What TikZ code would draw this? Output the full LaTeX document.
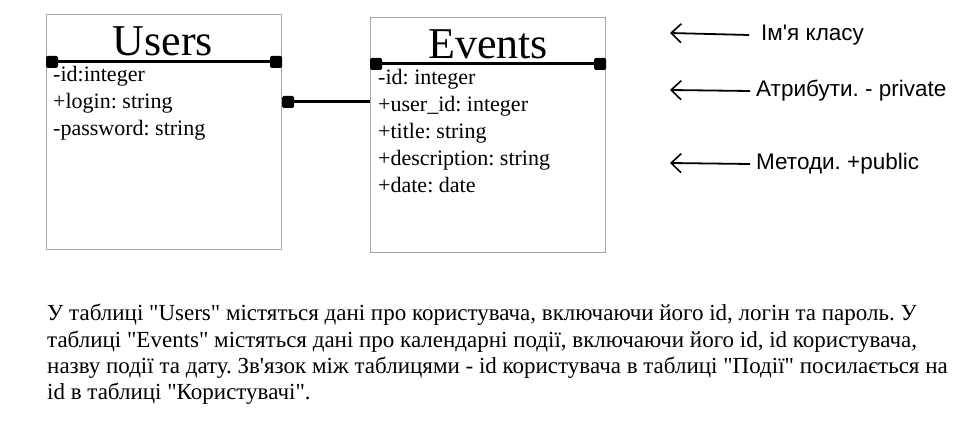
\documentclass[tikz,border=0pt]{standalone}
\usepackage{fontspec}
\newfontfamily\tabfont{Liberation Serif}
\newfontfamily\notefont{Liberation Sans}
\usetikzlibrary{positioning, arrows.meta}
\frenchspacing

\begin{document}
\begin{tikzpicture}[x=1pt,y=-1pt,
    tablebox/.style={draw=black!35,line width=0.8pt,minimum width=235pt,minimum height=235pt,anchor=north west,inner sep=0pt},
    tabletitle/.style={font=\tabfont\fontsize{44}{44}\selectfont,anchor=base,inner sep=0pt},
    attr/.style={font=\tabfont\fontsize{22}{27}\selectfont,anchor=base west,inner sep=0pt},
    pin/.style={fill=black,minimum size=12pt,inner sep=0pt,rounded corners=1.5pt},
    bar/.style={line width=3pt},
    note/.style={font=\notefont\fontsize{22.5}{24}\selectfont,anchor=west,inner sep=0pt},
    hint/.style={-{Straight Barb[length=10pt,width=19pt,line width=1.6pt]},line width=1.8pt},
    para/.style={font=\tabfont\fontsize{23}{26}\selectfont,anchor=base west,inner sep=0pt}]
        \useasboundingbox[fill=white] (0,0) rectangle (980,438);

        \node[tablebox] (users) at (46,14) {};
        \node[tablebox] (events) at (370,17) {};

        \node[tabletitle] (users_title) at (163,56) {Users};
        \node[tabletitle] (events_title) at (488,59) {Events};

        \node[pin] (users_l) at (52,62) {};
        \node[pin] (users_r) at (276,62) {};
        \draw[bar] (users_l) -- (users_r);
        \node[pin] (events_l) at (376,64) {};
        \node[pin] (events_r) at (600,64) {};
        \draw[bar] (events_l) -- (events_r);

        \node[attr] (u_id) at (53,82) {-id:integer};
        \node[attr] (u_login) at ([yshift=-27pt]u_id.base west) {+login: string};
        \node[attr] (u_pass) at ([yshift=-27pt]u_login.base west) {-password: string};

        \node[attr] (e_id) at (378,85) {-id: integer};
        \node[attr] (e_user) at ([yshift=-27pt]e_id.base west) {+user\_id: integer};
        \node[attr] (e_title) at ([yshift=-27pt]e_user.base west) {+title: string};
        \node[attr] (e_descr) at ([yshift=-27pt]e_title.base west) {+description: string};
        \node[attr] (e_date) at ([yshift=-27pt]e_descr.base west) {+date: date};

        % link user_id -> id
        \node[pin] (fk) at (288,102) {};
        \draw[bar] (fk) -- (fk -| events.west);

        % legend
        \node[note] (n_name) at (761,35) {Ім'я класу};
        \node[note] (n_attr) at (756,91) {Атрибути. - private};
        \node[note] (n_meth) at (756,164) {Методи. +public};
        \coordinate (a_name) at (670,33);
        \coordinate (a_attr) at (670,90);
        \coordinate (a_meth) at (670,163);
        \draw[hint] ([xshift=-12pt]n_name.west) -- (a_name);
        \draw[hint] ([xshift=-6pt]n_attr.west) -- (a_attr);
        \draw[hint] ([xshift=-6pt]n_meth.west) -- (a_meth);

        % description
        \node[para] (p1) at (47,321) {У таблиці "Users" містяться дані про користувача, включаючи його id, логін та пароль. У};
        \node[para] (p2) at ([yshift=-26.3pt]p1.base west) {таблиці "Events" містяться дані про календарні події, включаючи його id, id користувача,};
        \node[para] (p3) at ([yshift=-26.3pt]p2.base west) {назву події та дату. Зв'язок між таблицями - id користувача в таблиці "Події" посилається на};
        \node[para] (p4) at ([yshift=-26.3pt]p3.base west) {id в таблиці "Користувачі".};
\end{tikzpicture}
\end{document}
